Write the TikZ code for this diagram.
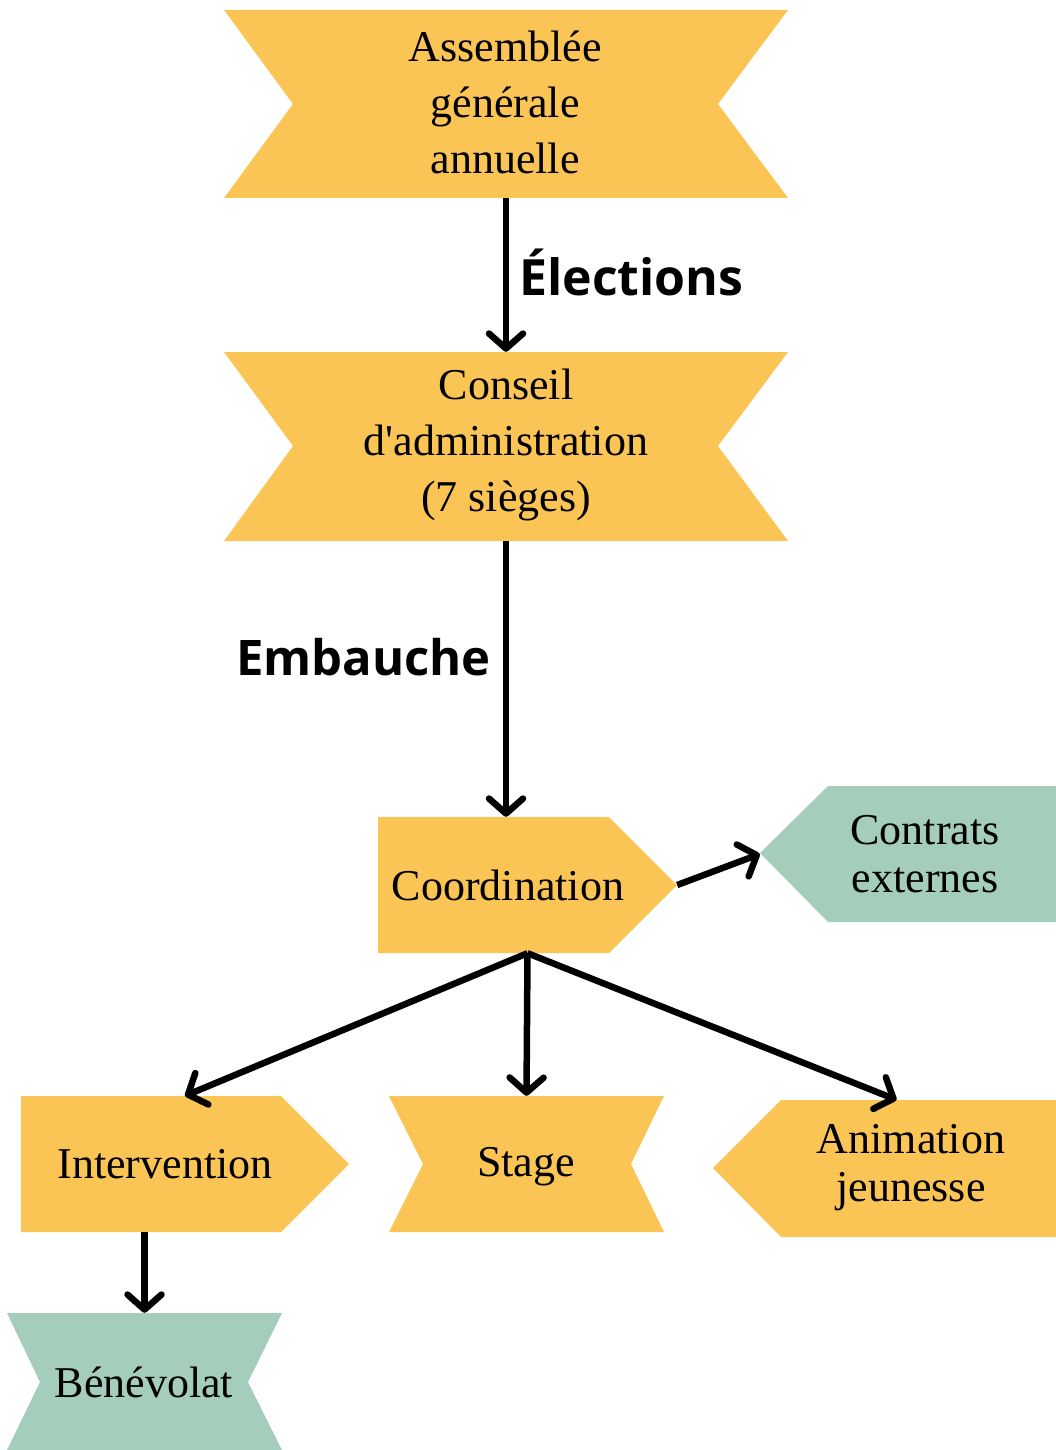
\documentclass[tikz,border=0pt]{standalone}
\usepackage{fontspec}
\setmainfont{Liberation Serif}[Ligatures=TeXOff]
\newfontfamily\labfont{Open Sans}
\usetikzlibrary{arrows.meta,calc}
\definecolor{ybox}{HTML}{FBC556}
\definecolor{gbox}{HTML}{A5CDBC}
\begin{document}
\begin{tikzpicture}[x=1pt,y=-1pt,
  box/.style={rectangle, inner sep=0pt, draw=none},
  txt/.style={font=\fontsize{44}{56}\selectfont, align=center, inner sep=0pt, text=black},
  txtb/.style={font=\fontsize{44}{48}\selectfont, align=center, inner sep=0pt, text=black},
  lab/.style={font=\labfont\bfseries\fontsize{50}{60}\selectfont, inner sep=0pt},
  arr/.style={line width=6.5pt, -{Straight Barb[length=15pt,width=34pt,line cap=round,line join=round]}}
]
\useasboundingbox (0,0) rectangle (1056,1450);
% shapes
\fill[ybox] (224,10) -- (788,10) -- (718,104) -- (788,198) -- (224,198) -- (293,104) -- cycle;
\fill[ybox] (224,352) -- (788,352) -- (718,446) -- (788,541) -- (224,541) -- (293,446) -- cycle;
\fill[ybox] (378,817) -- (609,817) -- (677,885) -- (609,953) -- (378,953) -- cycle;
\fill[gbox] (760,853) -- (828,786) -- (1056,786) -- (1056,922) -- (828,922) -- cycle;
\fill[ybox] (21,1096) -- (281,1096) -- (349,1164) -- (281,1232) -- (21,1232) -- cycle;
\fill[ybox] (389,1096) -- (664,1096) -- (631,1164) -- (664,1232) -- (389,1232) -- (423,1164) -- cycle;
\fill[ybox] (713,1168) -- (781,1100) -- (1056,1100) -- (1056,1237) -- (781,1237) -- cycle;
\fill[gbox] (7,1313) -- (282,1313) -- (248,1382) -- (282,1450) -- (7,1450) -- (40,1382) -- cycle;
% box extents
\node[box, minimum width=564pt, minimum height=188pt] (ag) at (506,104) {};
\node[box, minimum width=564pt, minimum height=189pt] (ca) at (506,446.5) {};
\node[box, minimum width=299pt, minimum height=136pt] (coord) at (527.5,885) {};
\node[box, minimum width=296pt, minimum height=136pt] (contrats) at (908,854) {};
\node[box, minimum width=328pt, minimum height=136pt] (inter) at (185,1164) {};
\node[box, minimum width=275pt, minimum height=136pt] (stage) at (526.5,1164) {};
\node[box, minimum width=343pt, minimum height=137pt] (anim) at (884.5,1168.5) {};
\node[box, minimum width=275pt, minimum height=137pt] (ben) at (144.5,1381.5) {};
% texts
\node[txt] (tag) at (505,102) {Assemblée\\générale\\annuelle};
\node[txt] (tca) at (506,445) {Conseil\\d'administration\\(7 sièges)};
\node[txt] (tcoord) at (508,885) {Coordination};
\node[txtb] (tcontrats) at (925,854) {Contrats\\externes};
\node[txt] (tinter) at (165,1164) {Intervention};
\node[txt] (tstage) at (526,1167) {Stage};
\node[txtb] (tanim) at (911,1168) {Animation\\jeunesse};
\node[txt] (tben) at (144,1382) {Bénévolat};
% labels
\node[lab, anchor=west] (elec) at (519,272) {Élections};
\node[lab, anchor=east, font=\labfont\bfseries\fontsize{49}{58}\selectfont] (emb) at (491,657) {Embauche};
% connectors
\draw[arr] (ag.south) -- (ca.north);
\draw[arr] (ca.south) -- (ca.south |- coord.north);
\draw[arr] (coord.east) -- (contrats.west);
\draw[arr] (coord.south) -- (inter.north);
\draw[arr] (coord.south) -- (stage.north);
\draw[arr] (coord.south) -- ([xshift=12pt]anim.north);
\draw[arr] (inter.south -| ben.north) -- (ben.north);
\end{tikzpicture}
\end{document}
